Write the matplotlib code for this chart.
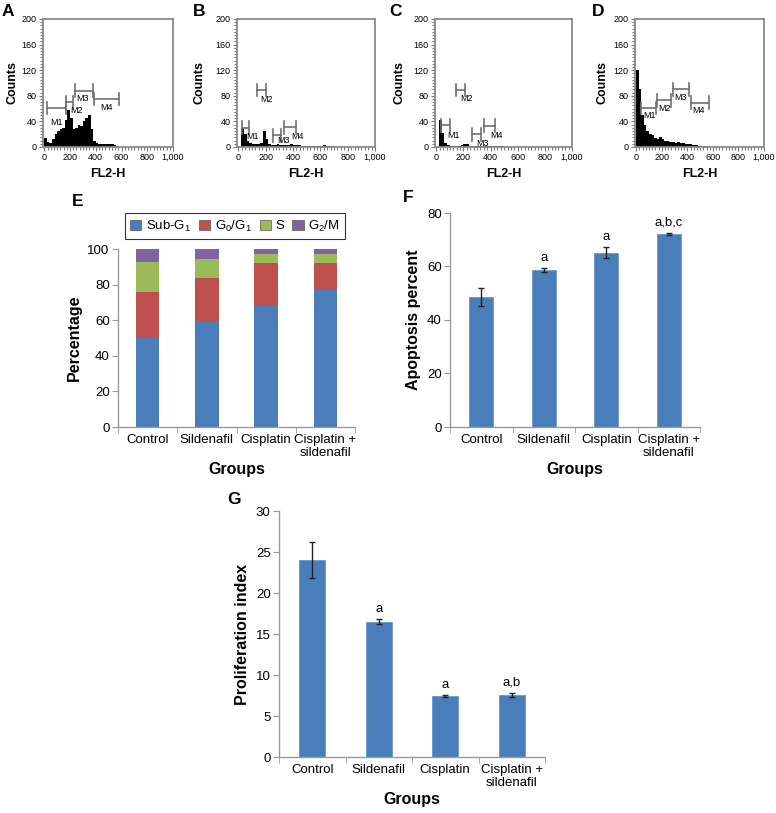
import numpy as np
import matplotlib
matplotlib.use("Agg")
import matplotlib.pyplot as plt
from matplotlib.patches import Patch
from matplotlib.ticker import MultipleLocator, FixedLocator, FuncFormatter

plt.rcParams["font.family"] = ["Liberation Sans", "DejaVu Sans"]
plt.rcParams["mathtext.fontset"] = "custom"
plt.rcParams["mathtext.rm"] = "Liberation Sans"
plt.rcParams["mathtext.it"] = "Liberation Sans"
plt.rcParams["mathtext.bf"] = "Liberation Sans:bold"

FIG_W, FIG_H = 776, 813

# flow cytometry histograms (FL2-H), counts per 20-unit channel bin
BIN_WIDTH = 20
HIST_A = [14, 8, 6, 12, 20, 25, 28, 30, 42, 58, 45, 28, 30, 35, 33, 40, 45, 50, 28, 10,
          7, 5, 4, 4, 4, 5, 4, 3, 1, 0]
HIST_B = [0, 30, 20, 10, 7, 5, 5, 4, 6, 25, 12, 4, 3, 3, 4, 3, 3, 3, 3, 4,
          3, 3, 3, 2, 2, 2, 2, 2, 1, 2, 1, 3, 1, 1, 1, 0]
HIST_C = [0, 42, 22, 6, 3, 2, 2, 2, 2, 3, 4, 4, 2, 1, 1, 1, 1, 1, 1, 1,
          1, 1, 1, 2, 1, 0]
HIST_D = [120, 90, 50, 35, 25, 20, 18, 14, 12, 15, 12, 10, 10, 8, 8, 7, 8, 7, 6, 5,
          5, 4, 3, 3, 2, 2, 1, 1, 0]

# marker gates: (start, end, level) and label anchor (x, y)
GATES_A = [(18, 172, 61), (172, 223, 70), (236, 377, 88), (390, 582, 75)]
GATE_TEXT_A = [(95, 39), (249, 57), (300, 76), (487, 62)]
GATES_B = [(24, 80, 30), (133, 200, 89), (253, 313, 18), (337, 422, 31)]
GATE_TEXT_B = [(106, 16), (207, 75), (330, 10), (436, 17)]
GATES_C = [(37, 100, 34), (146, 212, 89), (263, 329, 20), (354, 434, 33)]
GATE_TEXT_C = [(129, 18), (224, 76), (342, 6), (446, 18)]
GATES_D = [(39, 155, 61), (162, 271, 73), (284, 412, 90), (425, 567, 69)]
GATE_TEXT_D = [(103, 49), (219, 60), (348, 77), (490, 57)]
GATE_NAMES = ["M1", "M2", "M3", "M4"]

GROUPS = ["Control", "Sildenafil", "Cisplatin", "Cisplatin +\nsildenafil"]

# cell cycle phases (%)
SUB_G1 = [50.8, 59.2, 68.2, 76.7]
G0_G1 = [25.1, 24.3, 23.7, 15.2]
S_PHASE = [16.8, 10.9, 5.5, 5.5]
G2_M = [7.3, 5.6, 2.6, 2.6]
PHASE_LABELS = ["Sub-G$_1$", "G$_0$/G$_1$", "S", "G$_2$/M"]

APOPTOSIS = [48.6, 58.8, 65.2, 72.2]
APOPTOSIS_ERR = [3.2, 0.7, 2.0, 0.4]
APOPTOSIS_SIG = ["", "a", "a", "a,b,c"]

PROLIFERATION = [24.0, 16.5, 7.45, 7.6]
PROLIFERATION_ERR = [2.2, 0.3, 0.15, 0.25]
PROLIFERATION_SIG = ["", "a", "a", "a,b"]

PHASE_COLORS = ["#4A7EBB", "#C0504D", "#9BBB59", "#8064A2"]
BAR_COLOR = "#4A7EBB"
AXIS_GRAY = "#9A9A9A"


def px_axes(fig, left, top, right, bottom):
    return fig.add_axes([left / FIG_W, 1 - bottom / FIG_H,
                         (right - left) / FIG_W, (bottom - top) / FIG_H])


def fig_text(fig, x, y, s, **kw):
    fig.text(x / FIG_W, 1 - y / FIG_H, s, **kw)


def plot_histogram(ax, counts, gates, gate_text):
    edges = np.arange(len(counts) + 1) * BIN_WIDTH
    vals = list(counts) + [counts[-1]]
    ax.fill_between(edges, vals, step="post", color="black", lw=0)
    ax.set_xlim(-10, 1000)
    ax.set_ylim(0, 200)
    ax.xaxis.set_major_locator(FixedLocator([0, 200, 400, 600, 800, 1000]))
    ax.xaxis.set_major_formatter(FuncFormatter(lambda v, p: f"{int(v):,}"))
    ax.yaxis.set_major_locator(MultipleLocator(40))
    ax.xaxis.set_minor_locator(MultipleLocator(25))
    ax.yaxis.set_minor_locator(MultipleLocator(5))
    ax.tick_params(which="both", direction="out", color="#777777", labelsize=6.5,
                   pad=1.5, width=0.8)
    ax.tick_params(which="major", length=3)
    ax.tick_params(which="minor", length=2)
    for sp in ax.spines.values():
        sp.set_color("#8a8a8a")
        sp.set_linewidth(1.3)
    for (x0, x1, lvl), (tx, ty), name in zip(gates, gate_text, GATE_NAMES):
        ax.plot([x0, x1], [lvl, lvl], color="#707070", lw=1.2)
        ax.plot([x0, x0], [lvl - 10, lvl + 10], color="#707070", lw=1.2)
        ax.plot([x1, x1], [lvl - 10, lvl + 10], color="#707070", lw=1.2)
        ax.text(tx, ty, name, fontsize=6.5, ha="center", va="center")
    ax.set_xlabel("FL2-H", fontsize=9, fontweight="bold", labelpad=4)


def style_bar_axes(ax, ymax, ystep):
    ax.set_xlim(-0.5, 3.5)
    ax.set_ylim(0, ymax)
    ax.set_yticks(np.arange(0, ymax + ystep / 2, ystep))
    ax.set_xticks(range(len(GROUPS)))
    ax.set_xticklabels(GROUPS, fontsize=9.5, linespacing=1.15)
    ax.xaxis.set_minor_locator(FixedLocator(np.arange(-0.5, 3.6, 1.0)))
    ax.tick_params(axis="x", which="major", length=0, pad=5)
    ax.tick_params(axis="x", which="minor", length=4, color=AXIS_GRAY)
    ax.tick_params(axis="y", length=4, color=AXIS_GRAY, labelsize=9.5, pad=2)
    for side in ["top", "right"]:
        ax.spines[side].set_visible(False)
    for side in ["left", "bottom"]:
        ax.spines[side].set_color(AXIS_GRAY)
        ax.spines[side].set_linewidth(1.0)
    ax.set_xlabel("Groups", fontsize=11.5, fontweight="bold", labelpad=2)


def plot_sig_bars(ax, values, errs, sig, offset):
    x = np.arange(len(values))
    ax.bar(x, values, width=0.39, color=BAR_COLOR, edgecolor="#6a97cf", lw=0.6, zorder=2)
    ax.errorbar(x, values, yerr=errs, fmt="none", ecolor="#222222", elinewidth=1,
                capsize=2.5, capthick=1, zorder=3)
    for xi, v, e, s in zip(x, values, errs, sig):
        if s:
            ax.annotate(s, (xi, v + e), xytext=(0, offset), textcoords="offset points",
                        ha="center", va="bottom", fontsize=9.5)


def main():
    fig = plt.figure(figsize=(FIG_W / 100, FIG_H / 100), dpi=100)

    hist_boxes = [(43, 173), (237, 375), (435, 572), (635, 764)]
    hists = [HIST_A, HIST_B, HIST_C, HIST_D]
    gates = [GATES_A, GATES_B, GATES_C, GATES_D]
    gate_texts = [GATE_TEXT_A, GATE_TEXT_B, GATE_TEXT_C, GATE_TEXT_D]
    letters = [("A", 8), ("B", 199), ("C", 396), ("D", 598)]
    counts_x = [13, 200, 400, 603]
    for (l, r), h, g, gt, (let, lx), cx in zip(hist_boxes, hists, gates, gate_texts, letters, counts_x):
        ax = px_axes(fig, l, 19, r, 147)
        plot_histogram(ax, h, g, gt)
        fig_text(fig, lx, 11, let, fontsize=12.5, fontweight="bold", ha="center", va="center")
        fig_text(fig, cx, 83, "Counts", fontsize=9, fontweight="bold", rotation=90,
                 ha="center", va="center")

    # E: cell cycle distribution
    ax_e = px_axes(fig, 118, 249, 355, 427)
    x = np.arange(len(GROUPS))
    bottom = np.zeros(len(GROUPS))
    for vals, color in zip([SUB_G1, G0_G1, S_PHASE, G2_M], PHASE_COLORS):
        ax_e.bar(x, vals, bottom=bottom, width=0.4, color=color, lw=0, zorder=2)
        bottom += np.array(vals)
    style_bar_axes(ax_e, 100, 20)
    ax_e.set_ylabel("Percentage", fontsize=11.5, fontweight="bold", labelpad=4)
    handles = [Patch(facecolor=c, edgecolor="#555555", lw=0.5) for c in PHASE_COLORS]
    leg = ax_e.legend(handles, PHASE_LABELS, ncol=4, loc="center",
                      bbox_to_anchor=((235 - 118) / (355 - 118), 1 + (249 - 226) / (427 - 249)),
                      fontsize=9.5, frameon=True, fancybox=False, edgecolor="black",
                      handlelength=0.85, handleheight=0.85, handletextpad=0.35,
                      columnspacing=0.6, borderpad=0.4, borderaxespad=0)
    leg.get_frame().set_linewidth(0.8)
    fig_text(fig, 78, 201, "E", fontsize=12.5, fontweight="bold", ha="center", va="center")

    # F: apoptosis
    ax_f = px_axes(fig, 450, 213, 700, 427)
    plot_sig_bars(ax_f, APOPTOSIS, APOPTOSIS_ERR, APOPTOSIS_SIG, 3)
    style_bar_axes(ax_f, 80, 20)
    ax_f.set_ylabel("Apoptosis percent", fontsize=11.5, fontweight="bold", labelpad=4)
    fig_text(fig, 408, 198, "F", fontsize=12.5, fontweight="bold", ha="center", va="center")

    # G: proliferation index
    ax_g = px_axes(fig, 279, 511, 545, 757)
    plot_sig_bars(ax_g, PROLIFERATION, PROLIFERATION_ERR, PROLIFERATION_SIG, 3)
    style_bar_axes(ax_g, 30, 5)
    ax_g.set_ylabel("Proliferation index", fontsize=11.5, fontweight="bold", labelpad=4)
    fig_text(fig, 234, 499, "G", fontsize=12.5, fontweight="bold", ha="center", va="center")

    fig.savefig("out.png", dpi=100, facecolor="white")
    plt.close(fig)


if __name__ == "__main__":
    main()
